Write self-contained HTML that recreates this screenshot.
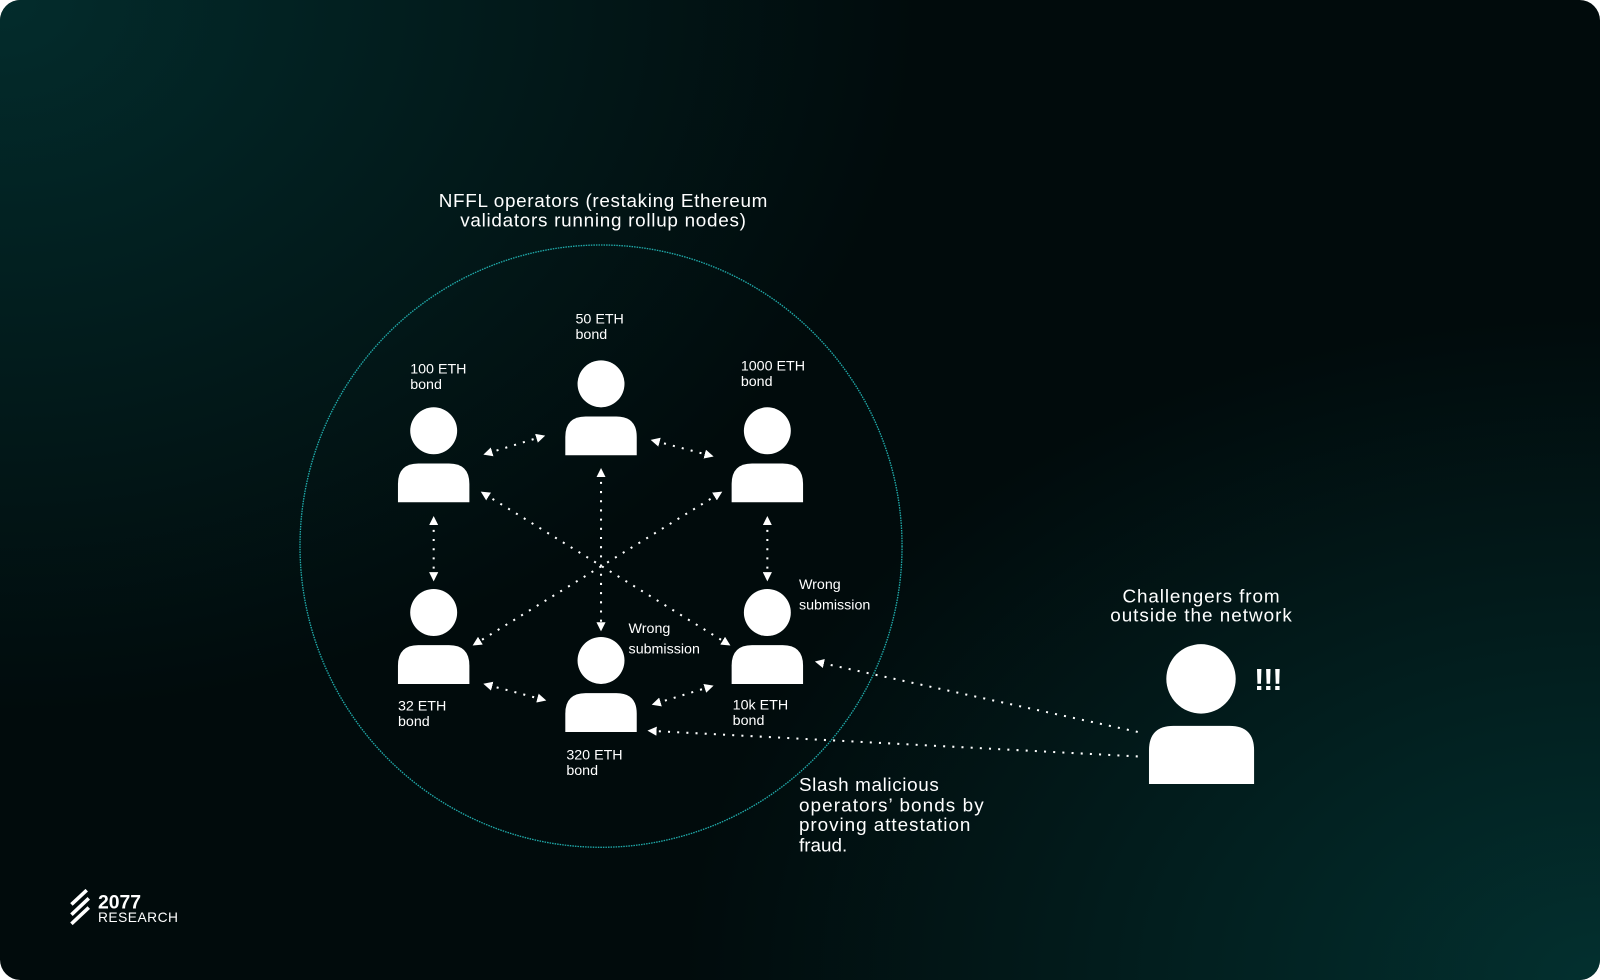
<!DOCTYPE html>
<html><head><meta charset="utf-8"><style>
html,body{margin:0;padding:0;background:#fff;width:1600px;height:980px;overflow:hidden}
svg{display:block}
text{font-family:"Liberation Sans",sans-serif;fill:#fff}
</style></head><body>
<svg width="1600" height="980" viewBox="0 0 1568 960" preserveAspectRatio="none" xmlns="http://www.w3.org/2000/svg">
<defs>
<radialGradient id="g1" cx="0" cy="0" r="1" gradientUnits="userSpaceOnUse" gradientTransform="translate(0 0) scale(900 700)">
<stop offset="0" stop-color="#032c2c"/><stop offset="1" stop-color="#032c2c" stop-opacity="0"/></radialGradient>
<radialGradient id="g2" cx="0" cy="0" r="1" gradientUnits="userSpaceOnUse" gradientTransform="translate(1568 960) scale(900 650)">
<stop offset="0" stop-color="#03302f"/><stop offset="1" stop-color="#03302f" stop-opacity="0"/></radialGradient>
<marker id="ar" viewBox="0 0 10 10" refX="5" refY="5" markerWidth="9" markerHeight="9" orient="auto-start-reverse" markerUnits="userSpaceOnUse">
<path d="M0,0 L10,5 L0,10 z" fill="#fff"/></marker>
<g id="p"><circle cx="0" cy="0" r="23" fill="#fff"/><path d="M-35,70 V52 Q-35,32 -15,32 H15 Q35,32 35,52 V70 Z" fill="#fff"/></g>
</defs>
<rect x="0" y="0" width="1568" height="960" rx="20" fill="#010b0c"/>
<rect x="0" y="0" width="1568" height="960" rx="20" fill="url(#g1)"/>
<rect x="0" y="0" width="1568" height="960" rx="20" fill="url(#g2)"/>
<circle cx="589" cy="535" r="295" fill="none" stroke="#20aaaa" stroke-width="1.3" stroke-dasharray="1.5 1"/>
<text x="591" y="203" font-size="18.5" text-anchor="middle" textLength="322">NFFL operators (restaking Ethereum</text>
<text x="591" y="222" font-size="18.5" text-anchor="middle" textLength="280">validators running rollup nodes)</text>
<g stroke="#fff" stroke-width="2" stroke-dasharray="2 7" fill="none" marker-start="url(#ar)" marker-end="url(#ar)">
<line x1="478" y1="444" x2="530" y2="428"/>
<line x1="642" y1="432" x2="695" y2="446"/>
<line x1="425" y1="510" x2="425" y2="565"/>
<line x1="752" y1="510" x2="752" y2="565"/>
<line x1="478" y1="671" x2="531" y2="685"/>
<line x1="643" y1="689" x2="695" y2="673"/>
<line x1="475" y1="484" x2="712" y2="630"/>
<line x1="704" y1="484" x2="467" y2="630"/>
<line x1="589" y1="463" x2="589" y2="614"/>
</g>
<g stroke="#fff" stroke-width="2" stroke-dasharray="2 7" fill="none" marker-end="url(#ar)">
<line x1="1115" y1="717" x2="803" y2="649"/>
<line x1="1115" y1="741" x2="639" y2="716"/>
</g>
<use href="#p" x="425" y="422"/>
<use href="#p" x="589" y="376"/>
<use href="#p" x="752" y="422"/>
<use href="#p" x="425" y="600"/>
<use href="#p" x="589" y="647"/>
<use href="#p" x="752" y="600"/>
<circle cx="1177" cy="665" r="34" fill="#fff"/>
<path d="M1126,768 V735 Q1126,711 1150,711 H1205 Q1229,711 1229,735 V768 Z" fill="#fff"/>
<text x="1229" y="676" font-size="30" font-weight="bold" letter-spacing="-1">!!!</text>
<g font-size="14">
<text x="564" y="317">50 ETH</text><text x="564" y="332">bond</text>
<text x="402" y="366">100 ETH</text><text x="402" y="381">bond</text>
<text x="726" y="363">1000 ETH</text><text x="726" y="378">bond</text>
<text x="390" y="696">32 ETH</text><text x="390" y="711">bond</text>
<text x="555" y="744">320 ETH</text><text x="555" y="759">bond</text>
<text x="718" y="695">10k ETH</text><text x="718" y="710">bond</text>
<text x="783" y="577">Wrong</text><text x="783" y="597">submission</text>
<text x="616" y="620">Wrong</text><text x="616" y="640">submission</text>
</g>
<g font-size="18.5">
<text x="1177" y="590" text-anchor="middle" textLength="154">Challengers from</text>
<text x="1177" y="609" text-anchor="middle" textLength="178">outside the network</text>
<text x="783" y="775" textLength="137">Slash malicious</text>
<text x="783" y="795" textLength="181">operators’ bonds by</text>
<text x="783" y="814" textLength="168">proving attestation</text>
<text x="783" y="834">fraud.</text>
</g>
<g stroke="#fff" stroke-width="3.5">
<line x1="70" y1="886" x2="85" y2="872"/>
<line x1="70" y1="896" x2="87" y2="880"/>
<line x1="70" y1="905" x2="87" y2="889"/>
</g>
<text x="96" y="890" font-size="19" font-weight="bold">2077</text>
<text x="96" y="903" font-size="13.5" letter-spacing="0.5">RESEARCH</text>
</svg>
</body></html>
